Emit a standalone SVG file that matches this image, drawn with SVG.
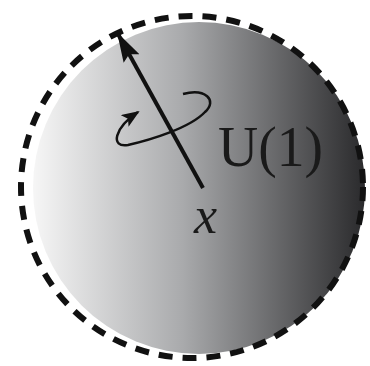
<svg xmlns="http://www.w3.org/2000/svg" width="370" height="366" viewBox="0 0 370 366">
<defs>
<linearGradient id="g" x1="0" y1="0" x2="1" y2="0">
<stop offset="0" stop-color="#f6f6f6"/>
<stop offset="0.45" stop-color="#a9aaac"/>
<stop offset="1" stop-color="#2a2a2c"/>
</linearGradient>
<marker id="big" viewBox="0 0 30 20" refX="28" refY="10" markerWidth="30" markerHeight="20" orient="auto" markerUnits="userSpaceOnUse">
<path d="M0,1 L30,10 L0,19 L5,10 Z" fill="#111"/>
</marker>
<marker id="small" viewBox="0 0 18 14" refX="16" refY="7" markerWidth="18" markerHeight="14" orient="auto" markerUnits="userSpaceOnUse">
<path d="M0,0 L18,7 L0,14 L4,7 Z" fill="#111"/>
</marker>
</defs>
<style>
.t{font-family:'Liberation Serif','DejaVu Serif',serif;fill:#1a1a1a}
</style>
<rect width="370" height="366" fill="#fff"/>
<g id="sphere">
<circle cx="199" cy="188" r="166" fill="url(#g)"/>
<circle cx="192" cy="187" r="171" fill="none" stroke="#111" stroke-width="6" stroke-dasharray="14 10"/>
</g>
<g id="connectors">
<line x1="203" y1="188" x2="118" y2="34" stroke="#111" stroke-width="4" marker-end="url(#big)"/>
<path d="M183 94 C205 88 218 100 205 112 C190 128 150 140 128 145 C110 148 114 128 138 112" fill="none" stroke="#111" stroke-width="2.5" marker-end="url(#small)"/>
</g>
<g id="labels">
<text class="t" x="218" y="166" font-size="57" textLength="105" lengthAdjust="spacingAndGlyphs">U(1)</text>
<text class="t" x="194" y="233" font-size="52" font-style="italic">x</text>
</g>
</svg>
